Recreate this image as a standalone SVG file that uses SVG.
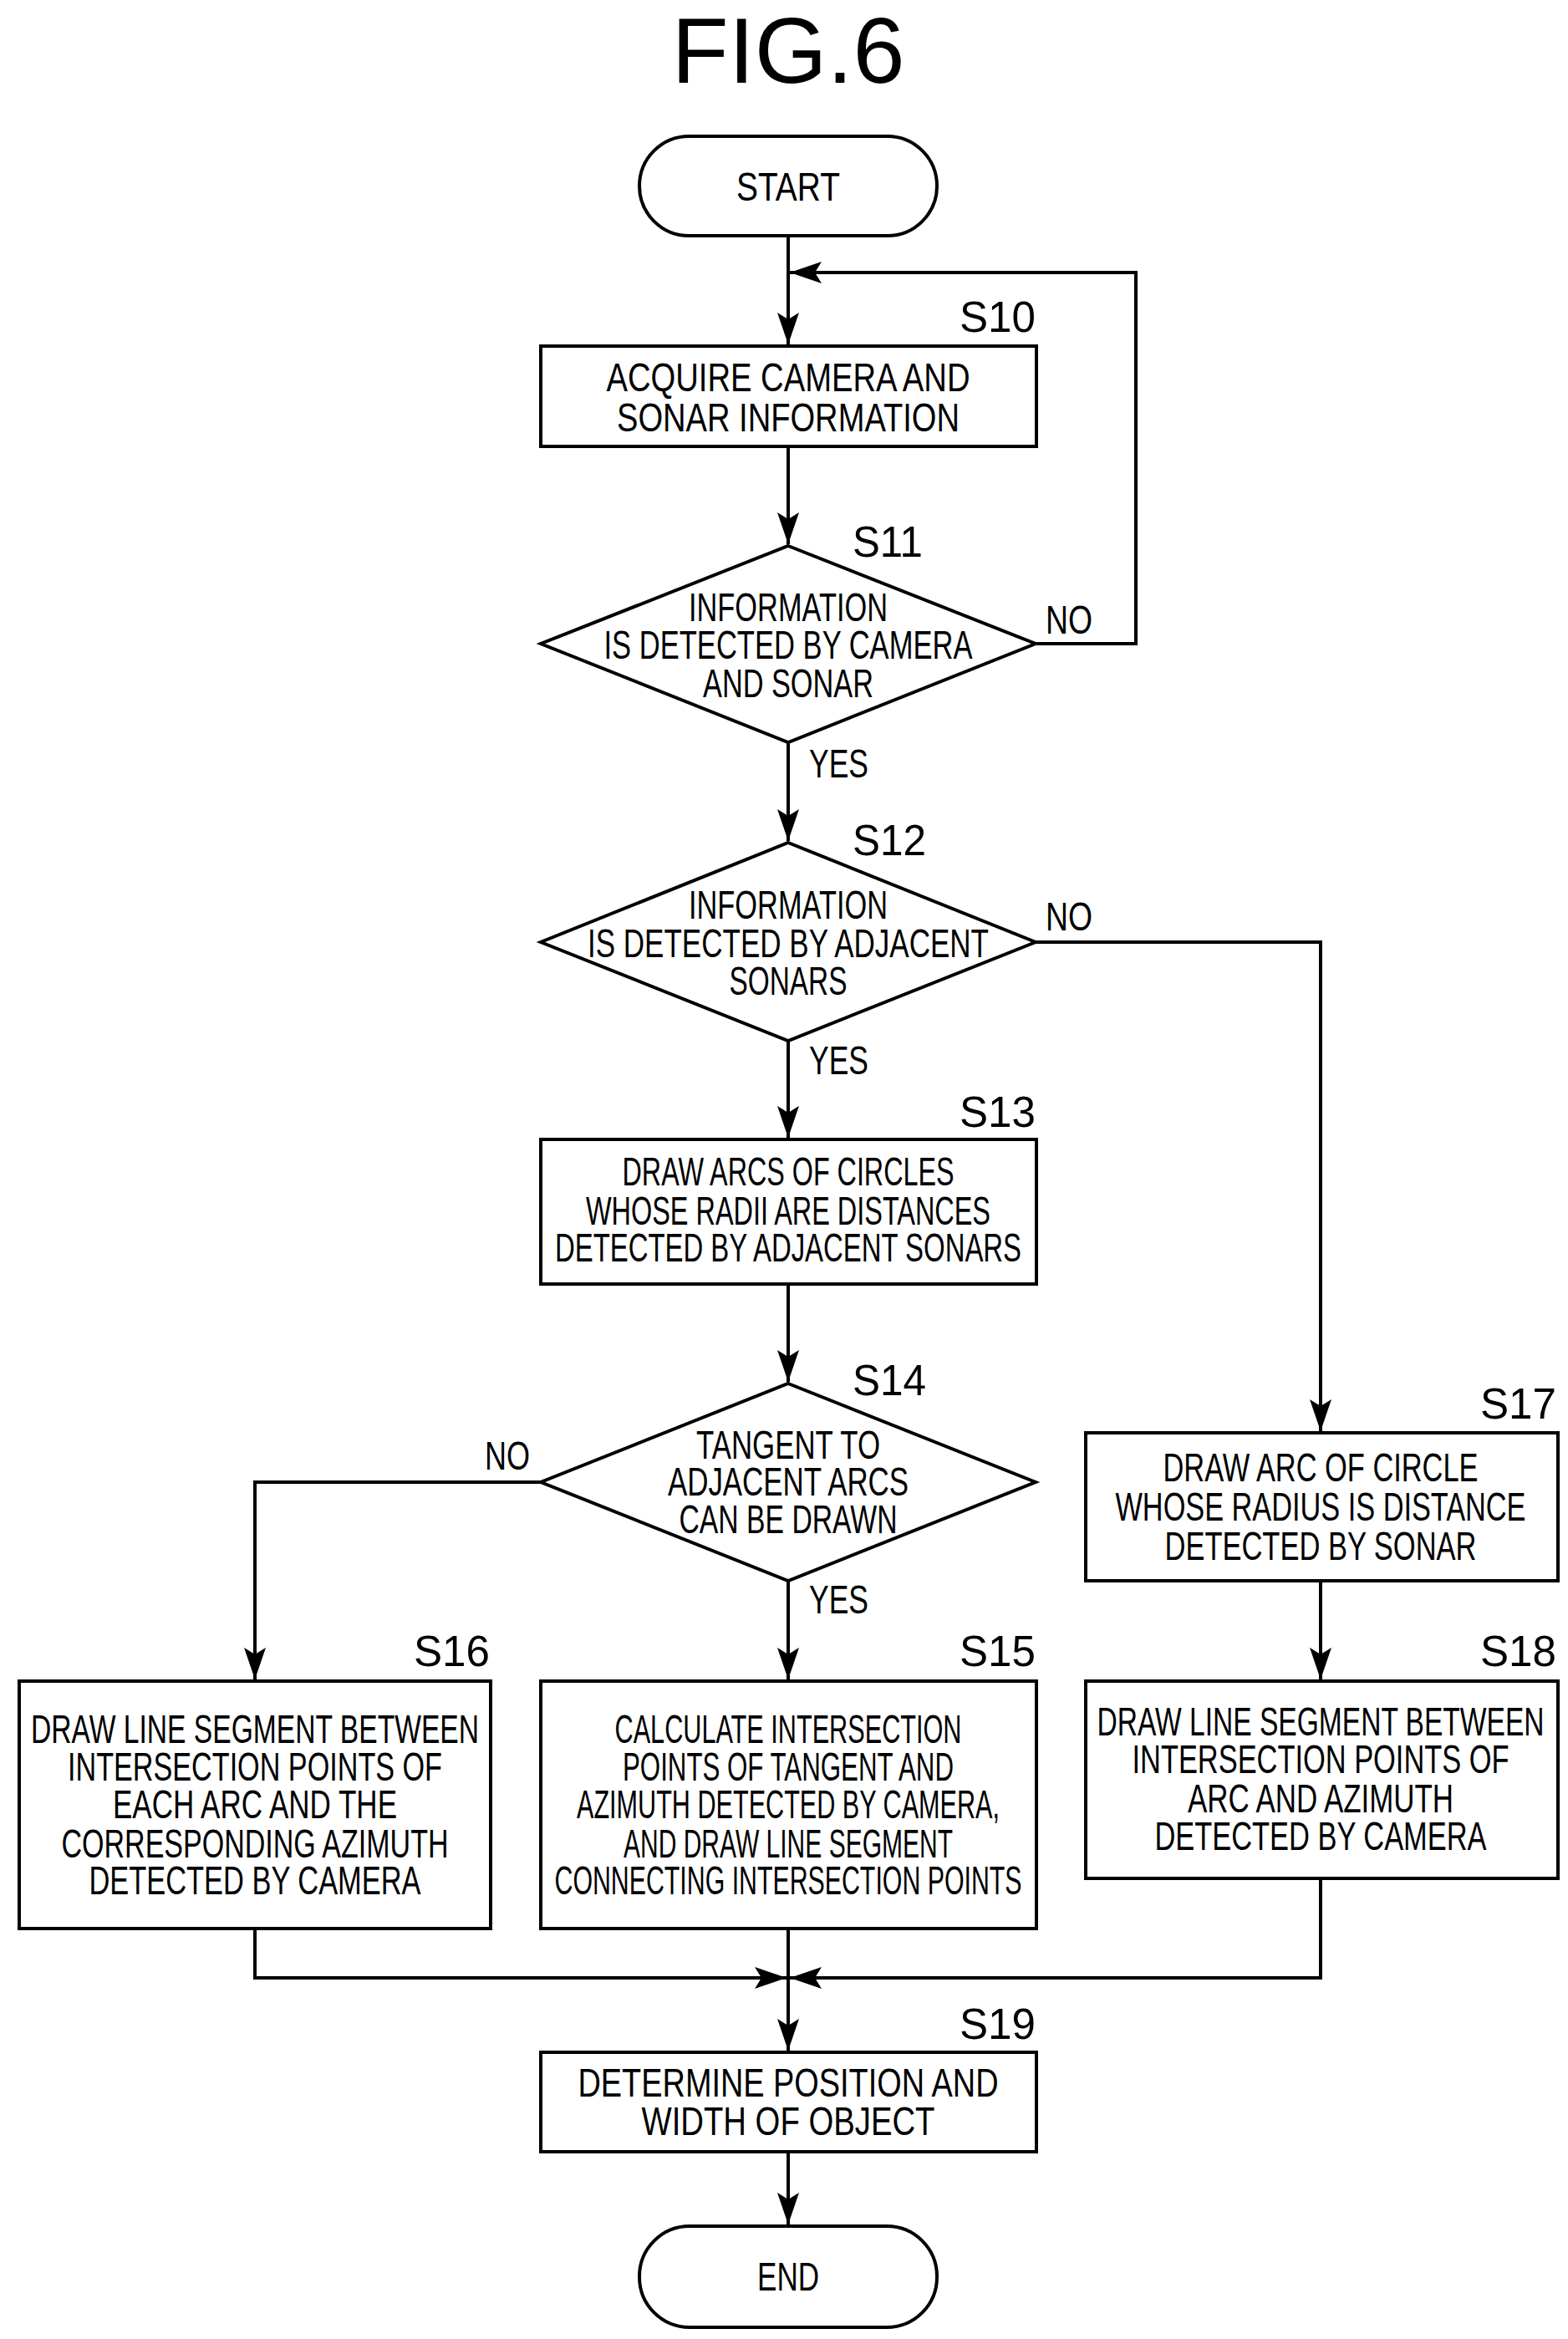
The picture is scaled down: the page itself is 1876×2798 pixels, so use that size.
<svg xmlns="http://www.w3.org/2000/svg" width="1876" height="2798" viewBox="0 0 1876 2798">
<style>
.s{fill:#fff;stroke:#000;stroke-width:4}
.c{fill:none;stroke:#000;stroke-width:4}
text{font-family:"Liberation Sans",Arial,sans-serif;font-size:48px;fill:#000;text-anchor:middle}
.l{font-size:52px;text-anchor:end}
.y{text-anchor:start}
</style>
<defs><marker id="a" markerUnits="userSpaceOnUse" markerWidth="40" markerHeight="30" viewBox="0 0 40 30" refX="38" refY="15" orient="auto"><path d="M0,2 L38,15 L0,28 L8,15 Z" fill="#000"/></marker></defs>
<text x="943" y="99" style="font-size:112px" textLength="279" lengthAdjust="spacingAndGlyphs">FIG.6</text>
<g id="connectors">
<path class="c" d="M943,282 V412" marker-end="url(#a)"/>
<path class="c" d="M1239,770 H1359 V326 H945" marker-end="url(#a)"/>
<path class="c" d="M943,534 V651" marker-end="url(#a)"/>
<path class="c" d="M943,888 V1006" marker-end="url(#a)"/>
<path class="c" d="M943,1245 V1361" marker-end="url(#a)"/>
<path class="c" d="M1239,1127 H1580 V1712" marker-end="url(#a)"/>
<path class="c" d="M943,1536 V1653" marker-end="url(#a)"/>
<path class="c" d="M647,1773 H305 V2009" marker-end="url(#a)"/>
<path class="c" d="M943,1891 V2009" marker-end="url(#a)"/>
<path class="c" d="M1580,1891 V2009" marker-end="url(#a)"/>
<path class="c" d="M305,2307 V2366 H941" marker-end="url(#a)"/>
<path class="c" d="M1580,2247 V2366 H945" marker-end="url(#a)"/>
<path class="c" d="M943,2307 V2453" marker-end="url(#a)"/>
<path class="c" d="M943,2574 V2661" marker-end="url(#a)"/>
<text class="y" x="1251" y="758" textLength="56" lengthAdjust="spacingAndGlyphs">NO</text>
<text class="y" x="968" y="930" textLength="71" lengthAdjust="spacingAndGlyphs">YES</text>
<text class="y" x="1251" y="1113" textLength="56" lengthAdjust="spacingAndGlyphs">NO</text>
<text class="y" x="968" y="1285" textLength="71" lengthAdjust="spacingAndGlyphs">YES</text>
<text class="y" x="580" y="1758" textLength="54" lengthAdjust="spacingAndGlyphs">NO</text>
<text class="y" x="968" y="1930" textLength="71" lengthAdjust="spacingAndGlyphs">YES</text>
</g>
<g id="start"><rect class="s" x="765" y="163" width="356" height="119" rx="59.5"/><text x="943" y="240" textLength="124" lengthAdjust="spacingAndGlyphs">START</text></g>
<g id="s10"><rect class="s" x="647" y="414" width="593" height="120"/><text class="l" x="1239" y="397" textLength="91" lengthAdjust="spacingAndGlyphs">S10</text>
<text x="943" y="468" textLength="435" lengthAdjust="spacingAndGlyphs">ACQUIRE CAMERA AND</text><text x="943" y="516" textLength="410" lengthAdjust="spacingAndGlyphs">SONAR INFORMATION</text></g>
<g id="s11"><path class="s" d="M943,653 L1239,770 L943,888 L647,770 Z"/><text class="l" x="1104" y="666" textLength="84" lengthAdjust="spacingAndGlyphs">S11</text>
<text x="943" y="743" textLength="238" lengthAdjust="spacingAndGlyphs">INFORMATION</text><text x="943" y="788" textLength="441" lengthAdjust="spacingAndGlyphs">IS DETECTED BY CAMERA</text><text x="943" y="834" textLength="204" lengthAdjust="spacingAndGlyphs">AND SONAR</text></g>
<g id="s12"><path class="s" d="M943,1008 L1239,1127 L943,1245 L647,1127 Z"/><text class="l" x="1108" y="1023" textLength="88" lengthAdjust="spacingAndGlyphs">S12</text>
<text x="943" y="1099" textLength="238" lengthAdjust="spacingAndGlyphs">INFORMATION</text><text x="943" y="1145" textLength="480" lengthAdjust="spacingAndGlyphs">IS DETECTED BY ADJACENT</text><text x="943" y="1190" textLength="141" lengthAdjust="spacingAndGlyphs">SONARS</text></g>
<g id="s13"><rect class="s" x="647" y="1363" width="593" height="173"/><text class="l" x="1239" y="1348" textLength="91" lengthAdjust="spacingAndGlyphs">S13</text>
<text x="943" y="1418" textLength="397" lengthAdjust="spacingAndGlyphs">DRAW ARCS OF CIRCLES</text><text x="943" y="1465" textLength="484" lengthAdjust="spacingAndGlyphs">WHOSE RADII ARE DISTANCES</text><text x="943" y="1509" textLength="558" lengthAdjust="spacingAndGlyphs">DETECTED BY ADJACENT SONARS</text></g>
<g id="s14"><path class="s" d="M943,1655 L1239,1773 L943,1891 L647,1773 Z"/><text class="l" x="1108" y="1669" textLength="88" lengthAdjust="spacingAndGlyphs">S14</text>
<text x="943" y="1745" textLength="220" lengthAdjust="spacingAndGlyphs">TANGENT TO</text><text x="943" y="1789" textLength="288" lengthAdjust="spacingAndGlyphs">ADJACENT ARCS</text><text x="943" y="1834" textLength="261" lengthAdjust="spacingAndGlyphs">CAN BE DRAWN</text></g>
<g id="s16"><rect class="s" x="23" y="2011" width="564" height="296"/><text class="l" x="586" y="1993" textLength="91" lengthAdjust="spacingAndGlyphs">S16</text>
<text x="305" y="2085" textLength="536" lengthAdjust="spacingAndGlyphs">DRAW LINE SEGMENT BETWEEN</text><text x="305" y="2130" textLength="448" lengthAdjust="spacingAndGlyphs">INTERSECTION POINTS OF</text><text x="305" y="2175" textLength="340" lengthAdjust="spacingAndGlyphs">EACH ARC AND THE</text><text x="305" y="2222" textLength="463" lengthAdjust="spacingAndGlyphs">CORRESPONDING AZIMUTH</text><text x="305" y="2266" textLength="397" lengthAdjust="spacingAndGlyphs">DETECTED BY CAMERA</text></g>
<g id="s15"><rect class="s" x="647" y="2011" width="593" height="296"/><text class="l" x="1239" y="1993" textLength="91" lengthAdjust="spacingAndGlyphs">S15</text>
<text x="943" y="2085" textLength="415" lengthAdjust="spacingAndGlyphs">CALCULATE INTERSECTION</text><text x="943" y="2130" textLength="396" lengthAdjust="spacingAndGlyphs">POINTS OF TANGENT AND</text><text x="943" y="2175" textLength="506" lengthAdjust="spacingAndGlyphs">AZIMUTH DETECTED BY CAMERA,</text><text x="943" y="2222" textLength="394" lengthAdjust="spacingAndGlyphs">AND DRAW LINE SEGMENT</text><text x="943" y="2266" textLength="559" lengthAdjust="spacingAndGlyphs">CONNECTING INTERSECTION POINTS</text></g>
<g id="s17"><rect class="s" x="1299" y="1714" width="565" height="177"/><text class="l" x="1862" y="1697" textLength="91" lengthAdjust="spacingAndGlyphs">S17</text>
<text x="1580" y="1772" textLength="377" lengthAdjust="spacingAndGlyphs">DRAW ARC OF CIRCLE</text><text x="1580" y="1819" textLength="491" lengthAdjust="spacingAndGlyphs">WHOSE RADIUS IS DISTANCE</text><text x="1580" y="1866" textLength="373" lengthAdjust="spacingAndGlyphs">DETECTED BY SONAR</text></g>
<g id="s18"><rect class="s" x="1299" y="2011" width="565" height="236"/><text class="l" x="1862" y="1993" textLength="91" lengthAdjust="spacingAndGlyphs">S18</text>
<text x="1580" y="2076" textLength="535" lengthAdjust="spacingAndGlyphs">DRAW LINE SEGMENT BETWEEN</text><text x="1580" y="2121" textLength="451" lengthAdjust="spacingAndGlyphs">INTERSECTION POINTS OF</text><text x="1580" y="2168" textLength="318" lengthAdjust="spacingAndGlyphs">ARC AND AZIMUTH</text><text x="1580" y="2213" textLength="397" lengthAdjust="spacingAndGlyphs">DETECTED BY CAMERA</text></g>
<g id="s19"><rect class="s" x="647" y="2455" width="593" height="119"/><text class="l" x="1239" y="2439" textLength="91" lengthAdjust="spacingAndGlyphs">S19</text>
<text x="943" y="2508" textLength="503" lengthAdjust="spacingAndGlyphs">DETERMINE POSITION AND</text><text x="943" y="2554" textLength="351" lengthAdjust="spacingAndGlyphs">WIDTH OF OBJECT</text></g>
<g id="end"><rect class="s" x="765" y="2663" width="356" height="121" rx="60"/><text x="943" y="2740" textLength="74" lengthAdjust="spacingAndGlyphs">END</text></g>
</svg>
